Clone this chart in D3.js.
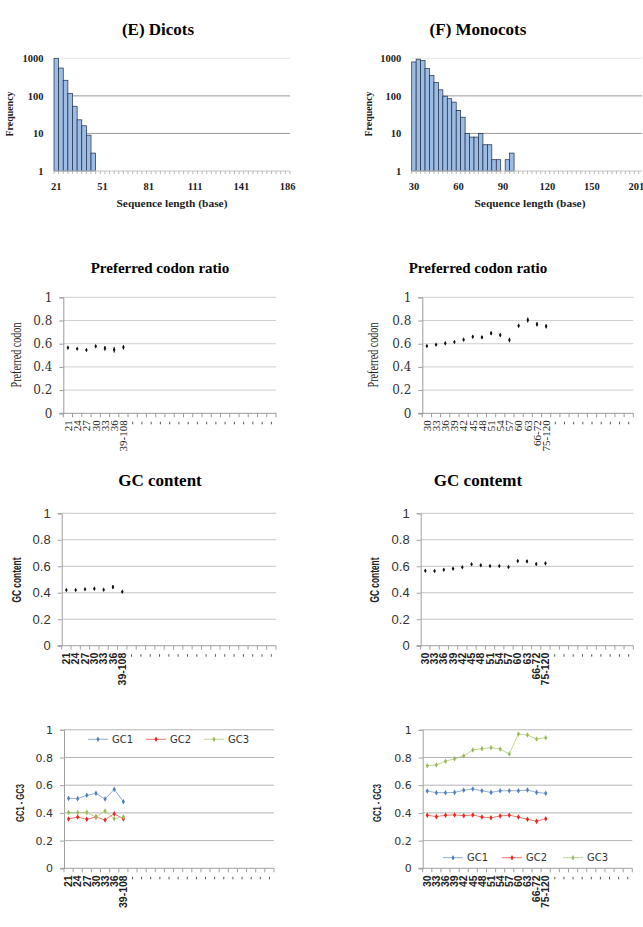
<!DOCTYPE html>
<html>
<head>
<meta charset="utf-8">
<script src="https://cdn.jsdelivr.net/npm/d3@7"></script>
<style>
  body { margin: 0; background: #fff; }
  text { fill: #222; }
</style>
</head>
<body>
<svg id="chart" width="643" height="927"></svg>
<script>
// ---- data ----
var HIST_BINS = 51;
var N_CAT = 23;

var histE_freq = [1000, 550, 260, 115, 53, 23, 16, 9, 3];
var histF_freq = [800, 950, 870, 540, 350, 225, 145, 98, 84, 68, 41, 27, 10, 8, 8, 10, 5, 5, 2, 2, 0, 2, 3];
var histE_ticks = ["21", "51", "81", "111", "141", "186"];
var histF_ticks = ["30", "60", "90", "120", "150", "201"];
var histY_ticks = [1, 10, 100, 1000];

var catE = ["21", "24", "27", "30", "33", "36", "39-108"];
var catF = ["30", "33", "36", "39", "42", "45", "48", "51", "54", "57", "60", "63", "66-72", "75-120"];
var ratioTicks = [0, 0.2, 0.4, 0.6, 0.8, 1];

var prefE = [0.566, 0.557, 0.546, 0.578, 0.560, 0.548, 0.569];
var prefE_err = [0.005, 0.005, 0.005, 0.012, 0.02, 0.025, 0.018];
var prefF = [0.580, 0.592, 0.603, 0.615, 0.635, 0.660, 0.655, 0.690, 0.675, 0.632, 0.755, 0.804, 0.767, 0.750];
var prefF_err = [0.005, 0.005, 0.005, 0.007, 0.008, 0.012, 0.012, 0.015, 0.015, 0.02, 0.015, 0.022, 0.018, 0.018];

var gcE = [0.421, 0.421, 0.426, 0.431, 0.423, 0.443, 0.408];
var gcE_err = [0.004, 0.004, 0.004, 0.005, 0.005, 0.015, 0.006];
var gcF = [0.566, 0.564, 0.574, 0.582, 0.592, 0.615, 0.607, 0.602, 0.602, 0.594, 0.640, 0.637, 0.617, 0.622];
var gcF_err = [0.004, 0.004, 0.004, 0.005, 0.005, 0.006, 0.006, 0.006, 0.006, 0.007, 0.008, 0.009, 0.009, 0.009];

var gc1E = [0.505, 0.503, 0.527, 0.541, 0.500, 0.570, 0.481];
var gc2E = [0.356, 0.370, 0.354, 0.370, 0.349, 0.394, 0.358];
var gc3E = [0.402, 0.402, 0.404, 0.370, 0.414, 0.358, 0.370];
var gc1F = [0.558, 0.546, 0.546, 0.548, 0.563, 0.573, 0.560, 0.548, 0.560, 0.560, 0.560, 0.565, 0.548, 0.541];
var gc2F = [0.383, 0.373, 0.383, 0.385, 0.380, 0.385, 0.370, 0.365, 0.378, 0.383, 0.370, 0.354, 0.339, 0.358];
var gc3F = [0.741, 0.746, 0.773, 0.791, 0.811, 0.854, 0.864, 0.871, 0.861, 0.825, 0.970, 0.962, 0.934, 0.943];

var seriesNames = ["GC1", "GC2", "GC3"];
var seriesColors = ["#4f81bd", "#e8261c", "#9bbb59"];

var SERIF = "'Liberation Serif', 'Times New Roman', serif";
var WIDE_SERIF = "'DejaVu Serif', serif";
var SANS = "'Liberation Sans', Arial, sans-serif";
var DSANS = "'DejaVu Sans', sans-serif";

var svg = d3.select('#chart');

function addTitle(x, y, txt, size) {
  svg.append('text')
    .attr('x', x).attr('y', y)
    .attr('text-anchor', 'middle')
    .style('font-family', SERIF)
    .style('font-weight', 'bold')
    .style('font-size', size + 'px')
    .style('fill', '#000')
    .text(txt);
}

function yTitle(x, y, txt, font, size, weight, len) {
  var t = svg.append('text')
    .attr('transform', 'translate(' + x + ',' + y + ') rotate(-90)')
    .attr('text-anchor', 'middle')
    .attr('dy', '0.35em')
    .style('font-family', font)
    .style('font-size', size + 'px')
    .style('font-weight', weight)
    .text(txt);
  if (len) t.attr('textLength', len).attr('lengthAdjust', 'spacingAndGlyphs');
}

// ---- histograms ----
function histogram(o) {
  var g = svg.append('g');
  var x = d3.scaleBand().domain(d3.range(HIST_BINS)).range([o.left, o.right]);
  var y = d3.scaleLog().domain([1, 1000]).range([171, 58.3]);
  var bw = x.bandwidth();

  g.selectAll('line.grid').data([10, 100, 1000]).enter().append('line')
    .attr('x1', o.left).attr('x2', o.gridRight)
    .attr('y1', function (d) { return y(d); })
    .attr('y2', function (d) { return y(d); })
    .style('stroke', function (d) { return d === 1000 ? '#e6e6e6' : '#9a9a9a'; })
    .style('stroke-width', 1);

  var bars = o.freq.map(function (v, i) { return { i: i, v: v }; })
    .filter(function (d) { return d.v > 0; });

  g.selectAll('rect').data(bars).enter().append('rect')
    .attr('x', function (d) { return x(d.i); })
    .attr('width', bw)
    .attr('y', function (d) { return y(d.v); })
    .attr('height', function (d) { return y(1) - y(d.v); })
    .style('fill', '#9dbce3')
    .style('stroke', '#1d2c45')
    .style('stroke-width', 0.7);

  // x axis with a tick at each bin edge
  g.append('line')
    .attr('x1', o.left).attr('x2', o.gridRight)
    .attr('y1', y(1)).attr('y2', y(1))
    .style('stroke', '#c4c4c4');
  g.selectAll('line.tk').data(d3.range(HIST_BINS + 1)).enter().append('line')
    .attr('x1', function (i) { return o.left + i * bw; })
    .attr('x2', function (i) { return o.left + i * bw; })
    .attr('y1', y(1)).attr('y2', y(1) + 3)
    .style('stroke', '#b8b8b8');

  g.selectAll('text.xl').data(o.ticks).enter().append('text')
    .attr('x', function (d, k) { return x(k * 10) + bw / 2; })
    .attr('y', 189.5)
    .attr('text-anchor', 'middle')
    .style('font-family', SERIF).style('font-weight', 'bold').style('font-size', '10.5px')
    .text(function (d) { return d; });

  g.selectAll('text.yl').data(histY_ticks).enter().append('text')
    .attr('x', o.left - 10.5)
    .attr('y', function (d) { return y(d); })
    .attr('dy', '0.35em')
    .attr('text-anchor', 'end')
    .style('font-family', SERIF).style('font-weight', 'bold').style('font-size', '10.5px')
    .text(function (d) { return d; });

  yTitle(o.yTitleX, 114, 'Frequency', SERIF, 10.5, 'bold', 45);
  g.append('text')
    .attr('x', o.xTitleX).attr('y', 206.5)
    .attr('text-anchor', 'middle')
    .attr('textLength', 111).attr('lengthAdjust', 'spacingAndGlyphs')
    .style('font-family', SERIF).style('font-weight', 'bold').style('font-size', '10.5px')
    .text('Sequence length (base)');
}

// ---- category (ratio) charts ----
function catFrame(o) {
  var g = svg.append('g');
  var x = d3.scaleBand().domain(d3.range(N_CAT)).range([o.left, o.right]);
  var y = d3.scaleLinear().domain([0, 1]).range([o.y0, o.y1]);
  var bw = x.bandwidth();

  g.selectAll('line.grid').data(ratioTicks.slice(1)).enter().append('line')
    .attr('x1', o.left).attr('x2', o.right)
    .attr('y1', function (d) { return y(d); })
    .attr('y2', function (d) { return y(d); })
    .style('stroke', o.grid).style('stroke-width', 1);

  var ya = g.append('g')
    .attr('transform', 'translate(' + o.left + ',0)')
    .call(d3.axisLeft(y).tickValues(ratioTicks).tickSize(4).tickPadding(7)
      .tickFormat(function (d) { return String(d); }));
  ya.select('.domain').style('stroke', o.axis);
  ya.selectAll('.tick line').style('stroke', o.axis);
  ya.selectAll('.tick text')
    .style('font-family', o.tickFont).style('font-size', o.tickSize + 'px').style('fill', '#333');

  // x axis: ticks on category edges
  g.append('line')
    .attr('x1', o.left - 4).attr('x2', o.right)
    .attr('y1', o.y0).attr('y2', o.y0)
    .style('stroke', o.axis);
  g.selectAll('line.tk').data(d3.range(N_CAT + 1)).enter().append('line')
    .attr('x1', function (i) { return o.left + i * bw; })
    .attr('x2', function (i) { return o.left + i * bw; })
    .attr('y1', o.y0).attr('y2', o.y0 + 4)
    .style('stroke', o.axis);

  var labels = d3.range(N_CAT).map(function (i) { return { i: i, t: o.cats[i] }; });
  g.selectAll('text.cl').data(labels.filter(function (d) { return d.t; })).enter().append('text')
    .attr('transform', function (d) {
      return 'translate(' + (x(d.i) + bw / 2) + ',' + (o.y0 + 7) + ') rotate(-90)';
    })
    .attr('dy', '0.35em')
    .attr('text-anchor', 'end')
    .style('font-family', o.catFont).style('font-size', o.catSize + 'px')
    .style('font-weight', o.catWeight)
    .text(function (d) { return d.t; });
  g.selectAll('line.empty').data(labels.filter(function (d) { return !d.t; })).enter().append('line')
    .attr('x1', function (d) { return x(d.i) + bw / 2; })
    .attr('x2', function (d) { return x(d.i) + bw / 2; })
    .attr('y1', o.y0 + 8.5).attr('y2', o.y0 + 11)
    .style('stroke', '#555').style('stroke-width', 1);

  return { g: g, x: x, y: y, bw: bw };
}

function pointChart(o) {
  var f = catFrame(o);
  var pts = o.vals.map(function (v, i) { return { i: i, v: v, e: o.err[i] }; });
  f.g.selectAll('line.err').data(pts).enter().append('line')
    .attr('x1', function (d) { return f.x(d.i) + f.bw / 2; })
    .attr('x2', function (d) { return f.x(d.i) + f.bw / 2; })
    .attr('y1', function (d) { return f.y(d.v - d.e); })
    .attr('y2', function (d) { return f.y(d.v + d.e); })
    .style('stroke', '#111').style('stroke-width', 1);
  f.g.selectAll('path.pt').data(pts).enter().append('path')
    .attr('transform', function (d) {
      return 'translate(' + (f.x(d.i) + f.bw / 2) + ',' + f.y(d.v) + ')';
    })
    .attr('d', d3.symbol(d3.symbolDiamond, 6))
    .style('fill', '#111');
  yTitle(o.yTitleX, o.yTitleY, o.yTitle, o.yTitleFont, o.yTitleSize, o.yTitleWeight, o.yTitleLen);
}

function lineChart(o) {
  var f = catFrame(o);
  o.series.forEach(function (vals, s) {
    var line = d3.line()
      .x(function (v, i) { return f.x(i) + f.bw / 2; })
      .y(function (v) { return f.y(v); });
    f.g.append('path').datum(vals)
      .attr('d', line)
      .style('fill', 'none')
      .style('stroke', seriesColors[s])
      .style('stroke-opacity', 0.7)
      .style('stroke-width', 0.9);
    f.g.selectAll('path.m' + s).data(vals).enter().append('path')
      .attr('transform', function (v, i) {
        return 'translate(' + (f.x(i) + f.bw / 2) + ',' + f.y(v) + ')';
      })
      .attr('d', d3.symbol(d3.symbolDiamond, 9))
      .style('fill', seriesColors[s]);
  });
  // legend
  var lg = f.g.append('g');
  seriesNames.forEach(function (n, s) {
    var lx = o.legendX[s];
    lg.append('line')
      .attr('x1', lx).attr('x2', lx + 20)
      .attr('y1', o.legendY).attr('y2', o.legendY)
      .style('stroke', seriesColors[s]).style('stroke-width', 0.9).style('stroke-opacity', 0.7);
    lg.append('path')
      .attr('transform', 'translate(' + (lx + 10) + ',' + o.legendY + ')')
      .attr('d', d3.symbol(d3.symbolDiamond, 9))
      .style('fill', seriesColors[s]);
    lg.append('text')
      .attr('x', lx + 24).attr('y', o.legendY)
      .attr('dy', '0.35em')
      .style('font-family', DSANS).style('font-size', '10px').style('fill', '#333')
      .text(n);
  });
  yTitle(o.yTitleX, o.yTitleY, 'GC1 - GC3', SANS, 11, 'bold', 38);
}

// ---- titles ----
addTitle(158, 35, '(E) Dicots', 17);
addTitle(478, 35, '(F) Monocots', 17);
addTitle(160, 273, 'Preferred codon ratio', 15);
addTitle(478, 273, 'Preferred codon ratio', 15);
addTitle(160, 486, 'GC content', 17);
addTitle(478, 486, 'GC contemt', 17);

// ---- row 1 ----
histogram({ left: 54, right: 290, gridRight: 290, freq: histE_freq, ticks: histE_ticks, yTitleX: 9.5, xTitleX: 172 });
histogram({ left: 411.7, right: 638.7, gridRight: 642, freq: histF_freq, ticks: histF_ticks, yTitleX: 368, xTitleX: 530 });

// ---- row 2 ----
var codonStyle = {
  y0: 413.3, y1: 297.3, grid: '#d0d0d0', axis: '#9a9a9a',
  tickFont: WIDE_SERIF, tickSize: 12,
  catFont: SERIF, catSize: 11, catWeight: 'normal',
  yTitle: 'Preferred codon', yTitleY: 355, yTitleFont: SERIF, yTitleSize: 14, yTitleWeight: 'normal', yTitleLen: 65
};
pointChart(Object.assign({}, codonStyle, { left: 63.3, right: 276, cats: catE, vals: prefE, err: prefE_err, yTitleX: 16 }));
pointChart(Object.assign({}, codonStyle, { left: 422.3, right: 633.3, cats: catF, vals: prefF, err: prefF_err, yTitleX: 373.5 }));

// ---- row 3 ----
var gcStyle = {
  y0: 645.7, y1: 513.3, grid: '#c4c4c4', axis: '#a0a0a0',
  tickFont: SANS, tickSize: 13,
  catFont: SANS, catSize: 10.5, catWeight: 'bold',
  yTitle: 'GC content', yTitleY: 580, yTitleFont: SANS, yTitleSize: 12, yTitleWeight: 'bold', yTitleLen: 45
};
pointChart(Object.assign({}, gcStyle, { left: 61.7, right: 276, cats: catE, vals: gcE, err: gcE_err, yTitleX: 16.5 }));
pointChart(Object.assign({}, gcStyle, { left: 420.7, right: 633.3, cats: catF, vals: gcF, err: gcF_err, yTitleX: 375 }));

// ---- row 4 ----
var gc123Style = {
  y0: 868.3, y1: 729.8, grid: '#b4b4b4', axis: '#a0a0a0',
  tickFont: DSANS, tickSize: 11,
  catFont: SANS, catSize: 10.5, catWeight: 'bold'
};
lineChart(Object.assign({}, gc123Style, {
  left: 64, right: 274, cats: catE, series: [gc1E, gc2E, gc3E],
  legendX: [88, 146, 204], legendY: 739.3, yTitleX: 20, yTitleY: 803
}));
lineChart(Object.assign({}, gc123Style, {
  left: 422.7, right: 632.3, cats: catF, series: [gc1F, gc2F, gc3F],
  legendX: [443, 502, 563], legendY: 857.7, yTitleX: 377, yTitleY: 803
}));
</script>
</body>
</html>
